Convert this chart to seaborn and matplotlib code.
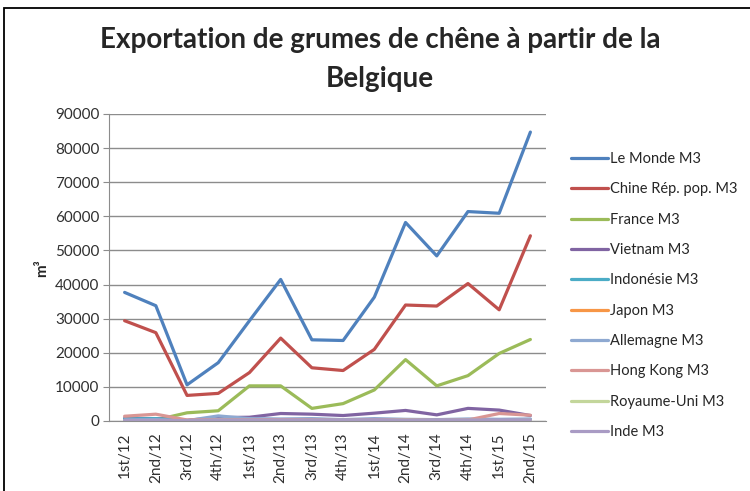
import numpy as np
import pandas as pd
import seaborn as sns
import matplotlib.pyplot as plt
from matplotlib.patches import Rectangle

# trimestres
quarters = ["1st/12", "2nd/12", "3rd/12", "4th/12", "1st/13", "2nd/13", "3rd/13",
            "4th/13", "1st/14", "2nd/14", "3rd/14", "4th/14", "1st/15", "2nd/15"]

# volumes exportés (m3)
le_monde = [37700, 33800, 10600, 17100, 29400, 41500, 23800, 23600, 36300, 58200, 48400, 61400, 60900, 84700]
chine = [29400, 25900, 7500, 8100, 14200, 24300, 15600, 14800, 21000, 34000, 33700, 40300, 32600, 54300]
france = [500, 300, 2400, 3000, 10300, 10300, 3700, 5100, 9100, 18000, 10300, 13300, 19800, 23900]
vietnam = [800, 700, 200, 1000, 1100, 2200, 2000, 1600, 2300, 3100, 1800, 3700, 3200, 1600]
indonesie = [600, 700, 100, 300, 400, 300, 500, 300, 200, 400, 300, 200, 300, 400]
japon = [0, 0, 0, 0, 0, 0, 0, 0, 0, 0, 0, 0, 0, 0]
allemagne = [300, 400, 100, 1500, 700, 600, 700, 400, 700, 500, 400, 600, 500, 600]
hong_kong = [1400, 2000, 300, 400, 300, 400, 300, 200, 300, 300, 200, 300, 2200, 1700]
royaume_uni = [100, 100, 0, 200, 100, 100, 100, 100, 100, 200, 100, 200, 100, 200]
inde = [200, 200, 100, 300, 200, 300, 200, 200, 300, 200, 200, 300, 300, 300]

series = {
    "Le Monde M3": le_monde,
    "Chine Rép. pop. M3": chine,
    "France M3": france,
    "Vietnam M3": vietnam,
    "Indonésie M3": indonesie,
    "Japon M3": japon,
    "Allemagne M3": allemagne,
    "Hong Kong M3": hong_kong,
    "Royaume-Uni M3": royaume_uni,
    "Inde M3": inde,
}
colors = ["#4F81BD", "#C0504D", "#9BBB59", "#8064A2", "#4BACC6",
          "#F79646", "#8EA9D1", "#D99694", "#C3D69B", "#A99BC4"]

rows = []
for name, vals in series.items():
    for i, v in enumerate(vals):
        rows.append({"pos": i, "serie": name, "m3": v})
df = pd.DataFrame(rows)

sns.set_style("white")
plt.rcParams["font.family"] = ["Lato", "DejaVu Sans"]

fig = plt.figure(figsize=(7.5, 4.91), dpi=100)
ax = fig.add_axes([109 / 750, 1 - 421 / 491, 437 / 750, 307 / 491])

sns.lineplot(data=df, x="pos", y="m3", hue="serie", palette=colors,
             linewidth=2.3, ax=ax, legend=True)

ax.set_xlim(-0.5, 13.5)
ax.set_ylim(0, 90000)
ax.set_yticks(np.arange(0, 90001, 10000))
ax.set_yticklabels([str(v) for v in range(0, 90001, 10000)], fontsize=11, color="#303030")
ax.set_xticks(range(len(quarters)))
ax.set_xticklabels(quarters, rotation=90, fontsize=11, color="#303030")
ax.grid(axis="y", color="#8C8C8C", linewidth=1)
ax.set_axisbelow(True)
for s in ["top", "right"]:
    ax.spines[s].set_visible(False)
for s in ["left", "bottom"]:
    ax.spines[s].set_color("#8C8C8C")
ax.tick_params(axis="y", length=4, color="#8C8C8C", left=True, pad=3)
ax.tick_params(axis="x", length=0, pad=8)
ax.set_xlabel("")
ax.set_ylabel("")

handles, labels = ax.get_legend_handles_labels()
ax.legend_.remove()
fig.legend(handles, labels, loc="upper left", bbox_to_anchor=(558 / 750, 1 - 139 / 491),
           frameon=False, fontsize=10.5, handlelength=2.5, handletextpad=0.15,
           labelspacing=1.12)

fig.text(380 / 750, 1 - 27 / 491, "Exportation de grumes de chêne à partir de la\nBelgique",
         ha="center", va="top", fontsize=20, fontweight="bold", linespacing=1.62)
fig.text(42 / 750, 1 - 268 / 491, "m³", rotation=90, ha="center", va="center",
         fontsize=11, fontweight="bold")

fig.patches.append(Rectangle((4 / 750, -0.1), 1.2, 1 - 8 / 491 + 0.1, transform=fig.transFigure,
                             fill=False, edgecolor="black", linewidth=1.3))

fig.savefig("out.png", dpi=100)
